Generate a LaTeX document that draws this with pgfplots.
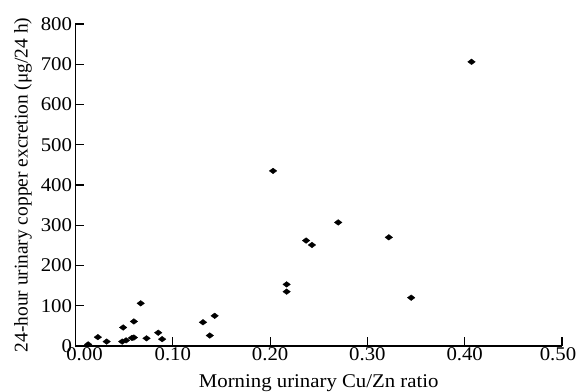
\documentclass[border=0pt]{standalone}
\usepackage{fontspec}
\setmainfont{Liberation Serif}[FakeStretch=1.07]
\newfontfamily\ylabfont{Liberation Serif}
\usepackage{pgfplots}
\pgfplotsset{compat=1.18}
\begin{document}
\begin{tikzpicture}[font=\fontsize{19.5}{22}\selectfont]
\begin{axis}[
  at={(0,0)}, anchor=south west,
  scale only axis, width=486.5bp, height=322bp,
  xmin=0, xmax=0.5, ymin=0, ymax=800,
  axis lines=left, axis line style={-, line width=1.1bp},
  tick align=inside, major tick length=9bp,
  tick style={line width=1.1bp, black},
  every tick label/.append style={font=\fontsize{19.5}{22}\selectfont},
  label style={font=\fontsize{19.5}{22}\selectfont},
  xtick={0,0.1,0.2,0.3,0.4,0.5},
  xticklabels={\hspace*{18bp}0.00, 0.10, 0.20, 0.30, 0.40, 0.50\hspace*{8bp}},
  ytick={0,100,...,800},
  x tick label style={yshift=1.5bp},
  y tick label style={/pgf/number format/assume math mode=true},
  xlabel={Morning urinary Cu/Zn ratio},
  ylabel={\ylabfont 24-hour urinary copper excretion (μg/24 h)},
  xlabel style={at={(axis description cs:0.5,-0.1304)}, anchor=base},
  ylabel style={at={(axis description cs:-0.108,0.5)}, anchor=center},
  clip=false,
]
\addplot[only marks, mark=diamond*, mark size=3.8bp, mark options={rotate=90, fill=black, draw=black, line width=0.3bp}] coordinates {
(0.013,4)
(0.023,22)
(0.032,11)
(0.049,46)
(0.060,61)
(0.067,106)
(0.048,11)
(0.052,14)
(0.058,20)
(0.060,21)
(0.073,19)
(0.085,33)
(0.089,17)
(0.131,59)
(0.143,75)
(0.138,26)
(0.203,435)
(0.217,153)
(0.217,135)
(0.237,262)
(0.243,251)
(0.270,307)
(0.322,270)
(0.345,120)
(0.407,706)
};
\end{axis}
\pgfresetboundingbox
\path[use as bounding box] (-75.5bp,-46bp) rectangle (502.5bp,346bp);
\end{tikzpicture}
\end{document}
